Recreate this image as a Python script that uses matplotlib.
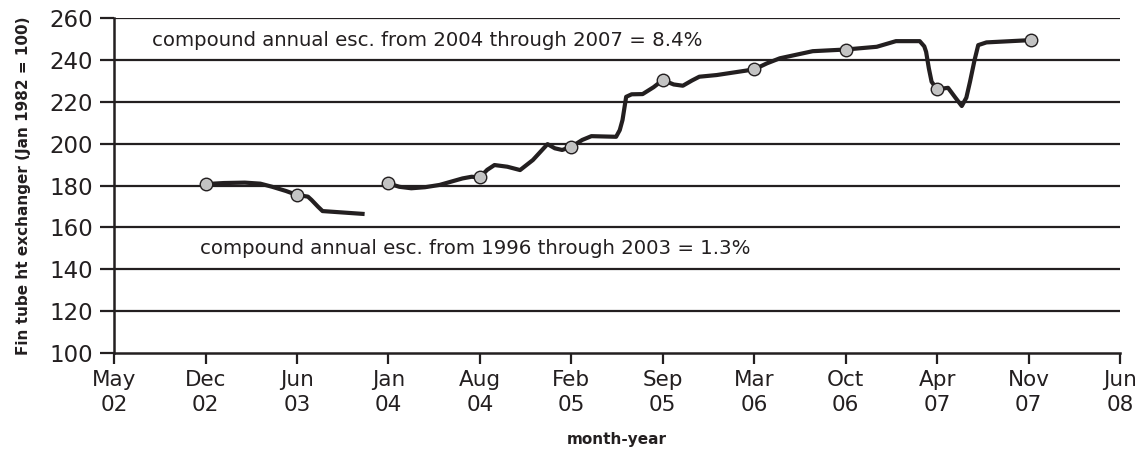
import matplotlib.pyplot as plt

# x positions are in tick units: 0 = May 02, 1 = Dec 02, ... 11 = Jun 08
tick_labels = ["May\n02", "Dec\n02", "Jun\n03", "Jan\n04", "Aug\n04", "Feb\n05",
               "Sep\n05", "Mar\n06", "Oct\n06", "Apr\n07", "Nov\n07", "Jun\n08"]

# early series (1996-2003 trend)
early_x = [1.00, 1.20, 1.43, 1.60, 1.73, 1.88, 2.00, 2.12, 2.16, 2.23, 2.28, 2.74]
early_y = [180.7, 181.2, 181.4, 180.9, 179.4, 177.4, 175.5, 174.7, 173.1, 169.9, 167.8, 166.4]

# later series (2004-2007)
late_x = [3.00, 3.12, 3.25, 3.40, 3.56, 3.81, 3.91, 4.00, 4.08, 4.16, 4.30, 4.44,
          4.58, 4.74, 4.82, 4.90, 5.00, 5.12, 5.22, 5.49, 5.53, 5.56, 5.60, 5.66,
          5.78, 5.90, 6.00, 6.12, 6.22, 6.32, 6.40, 6.59, 7.00, 7.14, 7.28, 7.46,
          7.64, 8.00, 8.34, 8.55, 8.81, 8.86, 8.88, 8.91, 8.94, 9.00, 9.12, 9.20,
          9.27, 9.32, 9.36, 9.41, 9.45, 9.54, 10.03]
late_y = [181.0, 179.4, 178.7, 179.2, 180.3, 183.4, 184.2, 183.9, 187.5, 189.8,
          189.0, 187.4, 192.2, 199.8, 197.8, 197.0, 198.5, 201.8, 203.6, 203.3,
          206.5, 211.3, 222.4, 223.6, 223.7, 227.0, 230.4, 228.3, 227.7, 230.2,
          232.0, 232.8, 235.5, 238.4, 240.8, 242.5, 244.2, 245.0, 246.3, 249.0,
          249.0, 246.5, 243.9, 236.0, 229.6, 226.0, 226.7, 222.0, 218.0, 222.0,
          229.6, 240.0, 247.1, 248.4, 249.5]

# survey points shown as markers
marker_x = [1.0, 2.0, 3.0, 4.0, 5.0, 6.0, 7.0, 8.0, 9.0, 10.03]
marker_y = [180.7, 175.5, 181.0, 183.9, 198.5, 230.4, 235.5, 245.0, 226.0, 249.5]

ink = "#231f20"
plt.rcParams["font.family"] = ["DejaVu Sans"]

fig = plt.figure(figsize=(11.44, 4.53), dpi=100)
ax = fig.add_axes([0.0997, 0.2208, 0.8793, 0.7392])

for v in range(120, 261, 20):
    ax.axhline(v, color=ink, lw=1.6, zorder=1)

ax.plot(early_x, early_y, color=ink, lw=3.0, solid_joinstyle="round", solid_capstyle="butt", zorder=3)
ax.plot(late_x, late_y, color=ink, lw=3.0, solid_joinstyle="round", solid_capstyle="butt", zorder=3)
ax.plot(marker_x, marker_y, ls="none", marker="o", ms=9, mfc="#c3c3c3", mec=ink, mew=1.0, zorder=4)

ax.text(0.42, 249.5, "compound annual esc. from 2004 through 2007 = 8.4%",
        fontsize=14.2, color=ink, va="center", ha="left")
ax.text(0.94, 149.7, "compound annual esc. from 1996 through 2003 = 1.3%",
        fontsize=14.2, color=ink, va="center", ha="left")

ax.set_xlim(0, 11)
ax.set_ylim(100, 260)
ax.set_xticks(range(len(tick_labels)))
ax.set_xticklabels(tick_labels, fontsize=15.5, color=ink, linespacing=1.35)
ax.set_yticks(range(100, 261, 20))
ax.tick_params(axis="y", length=10, width=1.6, color=ink, labelsize=16.5, labelcolor=ink, pad=5)
ax.tick_params(axis="x", length=8, width=1.6, color=ink, pad=4)

for side in ["top", "right"]:
    ax.spines[side].set_visible(False)
for side in ["left", "bottom"]:
    ax.spines[side].set_color(ink)
    ax.spines[side].set_linewidth(1.8)

ax.set_xlabel("month-year", fontsize=11, fontweight="bold", color=ink, labelpad=12)
ax.set_ylabel("Fin tube ht exchanger (Jan 1982 = 100)", fontsize=11, fontweight="bold",
              color=ink, labelpad=13)

fig.savefig("out.png", dpi=100)
